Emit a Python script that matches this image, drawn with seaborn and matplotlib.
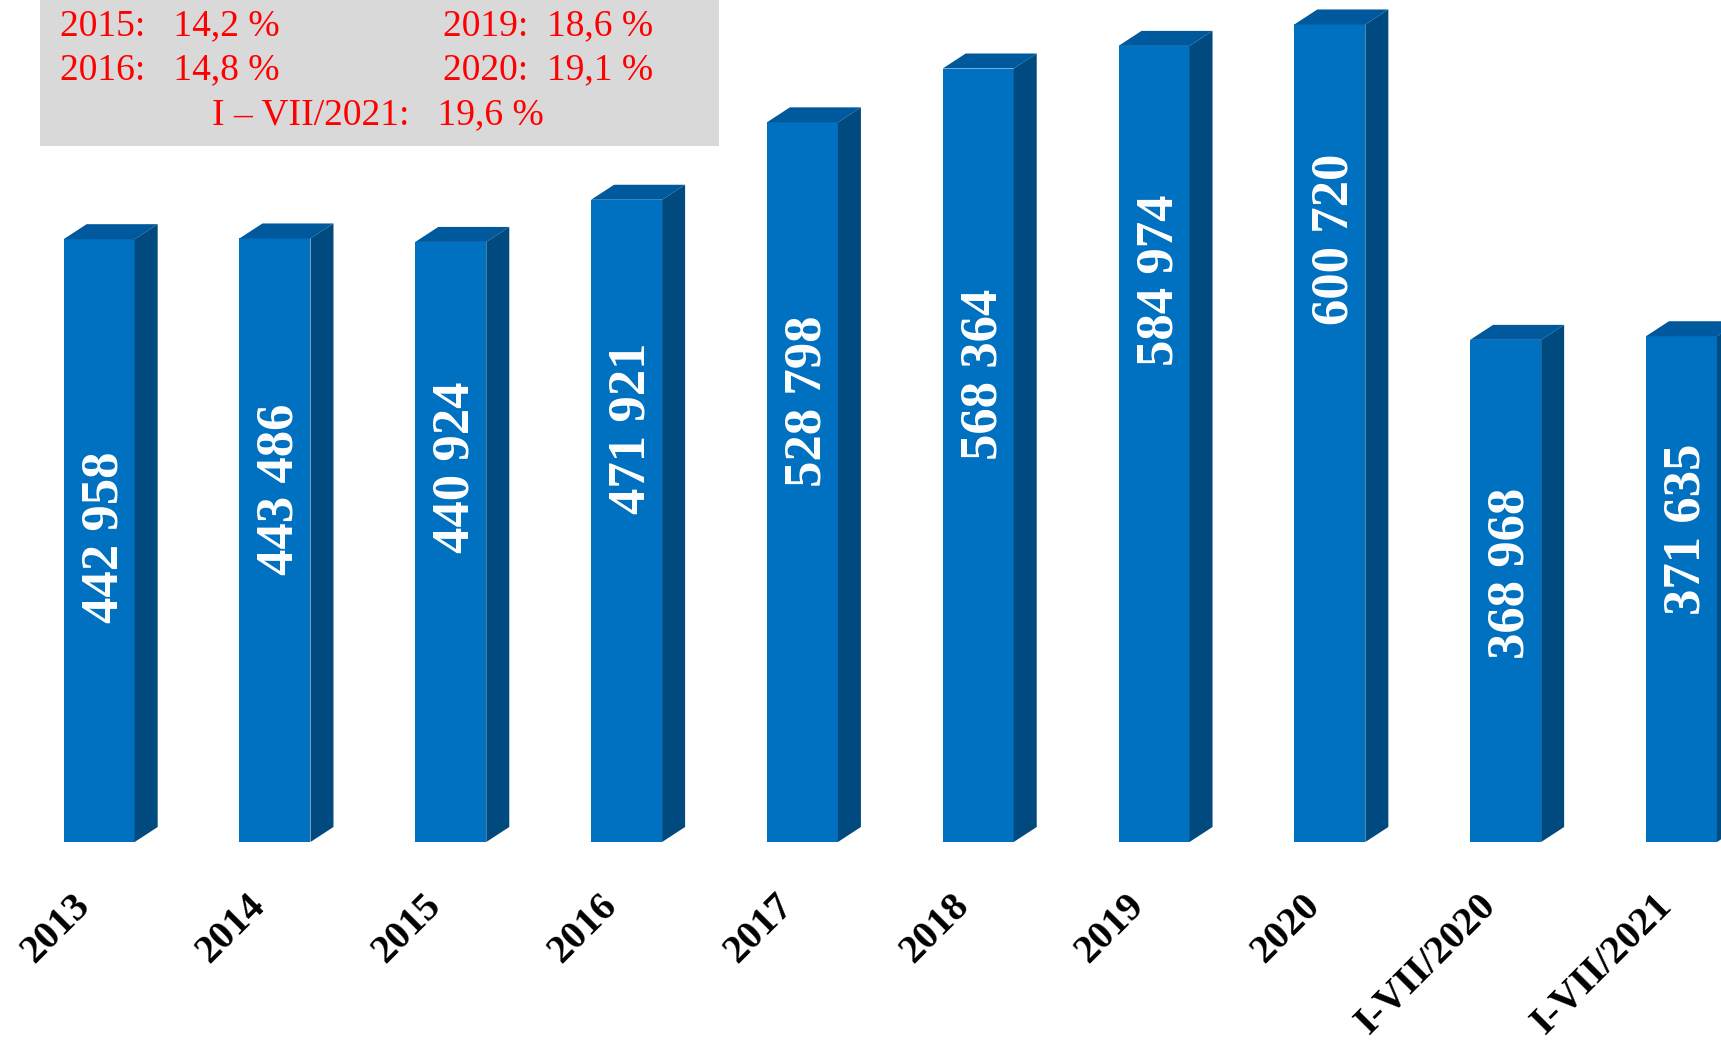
import matplotlib
matplotlib.use("Agg")
import matplotlib.pyplot as plt
import matplotlib.transforms as mtransforms
from matplotlib.patches import Polygon, Rectangle
import seaborn as sns

# ---- data ----
categories = ["2013", "2014", "2015", "2016", "2017", "2018", "2019", "2020",
              "I-VII/2020", "I-VII/2021"]
values = [442958, 443486, 440924, 471921, 528798, 568364, 584974, 600720,
          368968, 371635]
share_periods = ["2015", "2016", "2019", "2020", "I \u2013 VII/2021"]
share_values = ["14,2", "14,8", "18,6", "19,1", "19,6"]

# ---- layout / style ----
label_pos = [0.506, 0.584, 0.624, 0.644, 0.613, 0.605, 0.706, 0.737, 0.535, 0.618]
FRONT = "#0070C0"
TOP = "#00599D"
SIDE = "#004A7F"
SERIF = ["Liberation Serif", "DejaVu Serif"]

W, H, DPI = 17.21, 10.44, 100
sns.set_theme(style="white")
plt.rcParams["font.family"] = SERIF

fig = plt.figure(figsize=(W, H), dpi=DPI)
fig.patch.set_facecolor("white")
ax = fig.add_axes([0, 202 / 1044, 1, 842 / 1044])
ax.set_facecolor("none")

sns.barplot(x=categories, y=values, color=FRONT, saturation=1, width=0.404,
            edgecolor="none", linewidth=0, ax=ax, zorder=3)

ax.set_xlim(-0.564, 9.225)
ax.set_ylim(0, 618700)
for s in ax.spines.values():
    s.set_visible(False)
ax.set_yticks([])
ax.set_xlabel("")
ax.set_ylabel("")

# depth offsets (pixels -> data)
inv = ax.transData.inverted()
p0 = inv.transform((0, 0))
p1 = inv.transform((23, 15))
ddx, ddy = p1[0] - p0[0], p1[1] - p0[1]

lab_shift = mtransforms.ScaledTranslation(5 / DPI, 0, fig.dpi_scale_trans)
for i, bar in enumerate(ax.patches):
    x0 = bar.get_x()
    w = bar.get_width()
    h = bar.get_height()
    top = Polygon([(x0, h), (x0 + w, h), (x0 + w + ddx, h + ddy), (x0 + ddx, h + ddy)],
                  closed=True, facecolor=TOP, edgecolor="none", zorder=3, clip_on=False)
    side = Polygon([(x0 + w, 0), (x0 + w + ddx, ddy), (x0 + w + ddx, h + ddy), (x0 + w, h)],
                   closed=True, facecolor=SIDE, edgecolor="none", zorder=3, clip_on=False)
    ax.add_patch(top)
    ax.add_patch(side)
    ax.text(x0 + w / 2, h * label_pos[i], f"{values[i]:,}".replace(",", " "),
            rotation=90, ha="center", va="center", color="white",
            fontsize=38, fontweight="bold", family=SERIF, zorder=5,
            transform=ax.transData + lab_shift)

ax.set_xticks(range(len(categories)))
ax.set_xticklabels(categories, rotation=45, ha="right", va="center",
                   rotation_mode="anchor", fontsize=29, fontweight="bold",
                   color="black", family=SERIF)
ax.tick_params(axis="x", length=0, pad=0)
offset = mtransforms.ScaledTranslation(-15 / DPI, -58 / DPI, fig.dpi_scale_trans)
for lab in ax.get_xticklabels():
    lab.set_transform(lab.get_transform() + offset)

# ---- grey info box ----
fig.add_artist(Rectangle((40 / 1721, 1 - 146 / 1044), 679 / 1721, 146 / 1044,
                         transform=fig.transFigure, facecolor="#D9D9D9",
                         edgecolor="none", zorder=0))

def fx(px):
    return px / 1721

def fy(py):
    return 1 - py / 1044

txt_kw = dict(color="#FF0000", fontsize=27, family=SERIF, va="center",
              transform=fig.transFigure)
fig.text(fx(60), fy(26), f"{share_periods[0]}:   {share_values[0]} %", ha="left", **txt_kw)
fig.text(fx(60), fy(70), f"{share_periods[1]}:   {share_values[1]} %", ha="left", **txt_kw)
fig.text(fx(443), fy(26), f"{share_periods[2]}:  {share_values[2]} %", ha="left", **txt_kw)
fig.text(fx(443), fy(70), f"{share_periods[3]}:  {share_values[3]} %", ha="left", **txt_kw)
fig.text(fx(378), fy(115), f"{share_periods[4]}:   {share_values[4]} %", ha="center", **txt_kw)

fig.savefig("out.png", dpi=DPI, facecolor="white")
